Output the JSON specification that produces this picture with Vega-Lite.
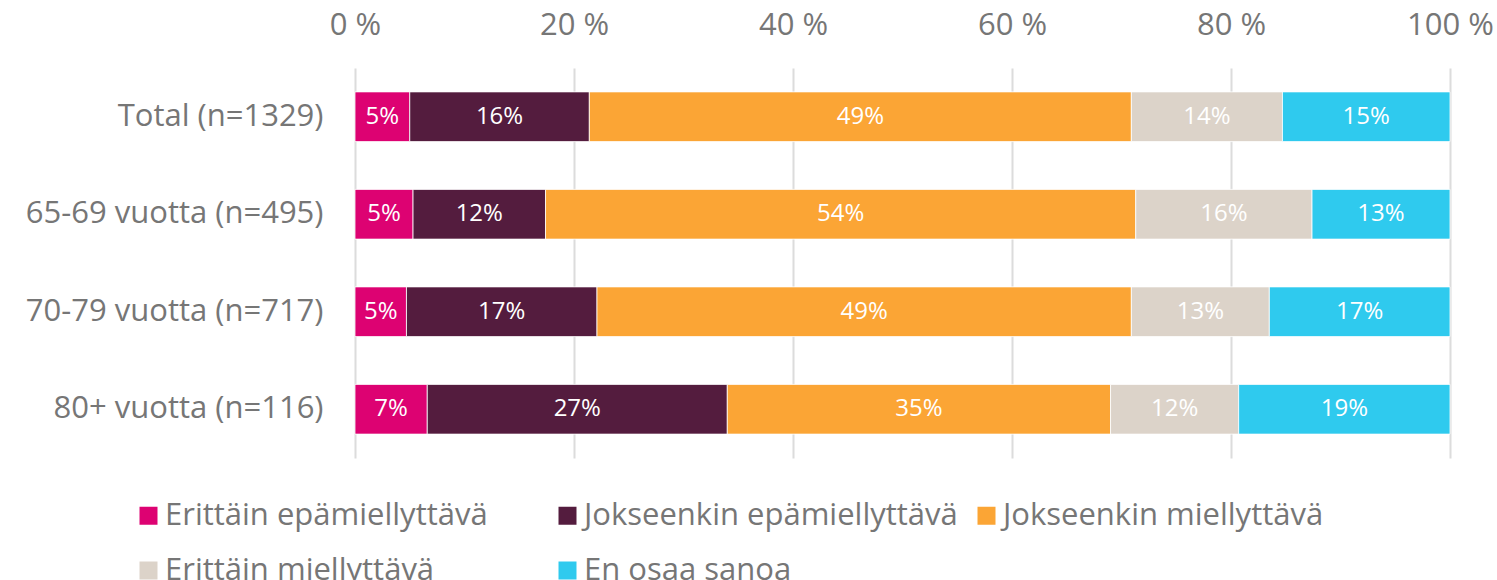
{
  "$schema": "https://vega.github.io/schema/vega-lite/v6.json",
  "width": 1095,
  "height": 390,
  "autosize": {"type": "none"},
  "padding": {"left": 355, "top": 68, "right": 47, "bottom": 122},
  "background": "white",
  "config": {
    "view": {"stroke": null},
    "font": "Open Sans"
  },
  "data": {
    "values": [
      {"group": "Total (n=1329)", "cat": "Erittäin epämiellyttävä", "i": 1, "v": 0.050, "label": "5%"},
      {"group": "Total (n=1329)", "cat": "Jokseenkin epämiellyttävä", "i": 2, "v": 0.164, "label": "16%"},
      {"group": "Total (n=1329)", "cat": "Jokseenkin miellyttävä", "i": 3, "v": 0.495, "label": "49%"},
      {"group": "Total (n=1329)", "cat": "Erittäin miellyttävä", "i": 4, "v": 0.138, "label": "14%"},
      {"group": "Total (n=1329)", "cat": "En osaa sanoa", "i": 5, "v": 0.153, "label": "15%"},
      {"group": "65-69 vuotta (n=495)", "cat": "Erittäin epämiellyttävä", "i": 1, "v": 0.053, "label": "5%"},
      {"group": "65-69 vuotta (n=495)", "cat": "Jokseenkin epämiellyttävä", "i": 2, "v": 0.121, "label": "12%"},
      {"group": "65-69 vuotta (n=495)", "cat": "Jokseenkin miellyttävä", "i": 3, "v": 0.539, "label": "54%"},
      {"group": "65-69 vuotta (n=495)", "cat": "Erittäin miellyttävä", "i": 4, "v": 0.161, "label": "16%"},
      {"group": "65-69 vuotta (n=495)", "cat": "En osaa sanoa", "i": 5, "v": 0.126, "label": "13%"},
      {"group": "70-79 vuotta (n=717)", "cat": "Erittäin epämiellyttävä", "i": 1, "v": 0.047, "label": "5%"},
      {"group": "70-79 vuotta (n=717)", "cat": "Jokseenkin epämiellyttävä", "i": 2, "v": 0.174, "label": "17%"},
      {"group": "70-79 vuotta (n=717)", "cat": "Jokseenkin miellyttävä", "i": 3, "v": 0.488, "label": "49%"},
      {"group": "70-79 vuotta (n=717)", "cat": "Erittäin miellyttävä", "i": 4, "v": 0.126, "label": "13%"},
      {"group": "70-79 vuotta (n=717)", "cat": "En osaa sanoa", "i": 5, "v": 0.165, "label": "17%"},
      {"group": "80+ vuotta (n=116)", "cat": "Erittäin epämiellyttävä", "i": 1, "v": 0.066, "label": "7%"},
      {"group": "80+ vuotta (n=116)", "cat": "Jokseenkin epämiellyttävä", "i": 2, "v": 0.274, "label": "27%"},
      {"group": "80+ vuotta (n=116)", "cat": "Jokseenkin miellyttävä", "i": 3, "v": 0.350, "label": "35%"},
      {"group": "80+ vuotta (n=116)", "cat": "Erittäin miellyttävä", "i": 4, "v": 0.117, "label": "12%"},
      {"group": "80+ vuotta (n=116)", "cat": "En osaa sanoa", "i": 5, "v": 0.193, "label": "19%"}
    ]
  },
  "transform": [
    {"stack": "v", "groupby": ["group"], "sort": [{"field": "i", "order": "ascending"}], "as": ["v0", "v1"]},
    {"calculate": "(datum.v0 + datum.v1) / 2", "as": "mid"}
  ],
  "encoding": {
    "y": {
      "field": "group",
      "type": "nominal",
      "sort": ["Total (n=1329)", "65-69 vuotta (n=495)", "70-79 vuotta (n=717)", "80+ vuotta (n=116)"],
      "scale": {"paddingInner": 0.49, "paddingOuter": 0.245},
      "axis": {
        "title": null,
        "domain": false,
        "ticks": false,
        "labelFontSize": 31,
        "labelColor": "#767676",
        "labelPadding": 32,
        "labelLimit": 400
      }
    }
  },
  "layer": [
    {
      "mark": {"type": "bar", "stroke": "white", "strokeWidth": 0.8},
      "encoding": {
        "x": {
          "field": "v0",
          "type": "quantitative",
          "scale": {"domain": [0, 1], "nice": false},
          "axis": {
            "orient": "top",
            "title": null,
            "values": [0, 0.2, 0.4, 0.6, 0.8, 1],
            "labelExpr": "format(datum.value * 100, '.0f') + ' %'",
            "domain": false,
            "ticks": false,
            "grid": true,
            "gridColor": "#dcdcdc",
            "gridWidth": 2,
            "labelFontSize": 31,
            "labelColor": "#767676",
            "labelPadding": 27,
            "labelFlush": false
          }
        },
        "x2": {"field": "v1"},
        "color": {
          "field": "cat",
          "type": "nominal",
          "scale": {
            "domain": ["Erittäin epämiellyttävä", "Jokseenkin epämiellyttävä", "Jokseenkin miellyttävä", "Erittäin miellyttävä", "En osaa sanoa"],
            "range": ["#DD0272", "#541C3E", "#FBA535", "#DCD3C9", "#2FCAEE"]
          },
          "legend": {
            "title": null,
            "orient": "none",
            "legendX": -222,
            "legendY": 432,
            "direction": "horizontal",
            "columns": 3,
            "gridAlign": "all",
            "columnPadding": 13,
            "rowPadding": 23,
            "symbolType": "square",
            "symbolSize": 324,
            "symbolStrokeWidth": 0,
            "symbolOpacity": 1,
            "labelFontSize": 31,
            "labelColor": "#767676",
            "labelLimit": 500,
            "labelOffset": 1
          }
        }
      }
    },
    {
      "mark": {"type": "text", "color": "white", "fontSize": 24, "baseline": "middle", "align": "center"},
      "encoding": {
        "x": {"field": "mid", "type": "quantitative"},
        "text": {"field": "label"}
      }
    }
  ]
}
